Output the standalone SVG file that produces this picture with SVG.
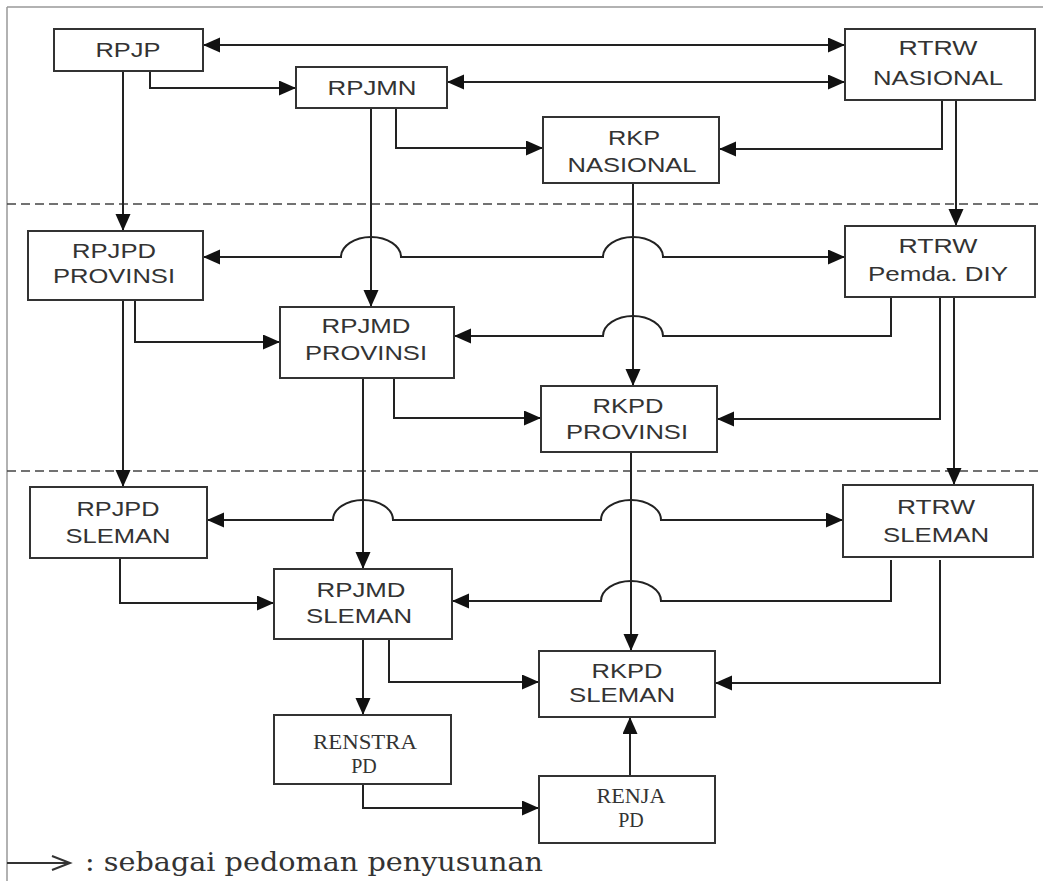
<svg xmlns="http://www.w3.org/2000/svg" width="1043" height="881" viewBox="0 0 1043 881">
<style>
.box{fill:#fff;stroke:#333;stroke-width:2}
.t{font-family:"Liberation Sans",Arial,sans-serif;font-size:21px;fill:#333;text-anchor:middle}
.s{font-family:"Liberation Serif","Times New Roman",serif;font-size:20px;fill:#333;text-anchor:middle}
.c{fill:none;stroke:#222;stroke-width:2}
.frame{fill:none;stroke:#999;stroke-width:1.5}
.dash{fill:none;stroke:#444;stroke-width:1.5;stroke-dasharray:9 5}
</style>
<defs>
<marker id="ah" markerUnits="userSpaceOnUse" markerWidth="18" markerHeight="16" refX="17" refY="7.5" orient="auto-start-reverse" viewBox="0 0 18 16">
<path d="M0,0 L17,7.5 L0,15 z" fill="#111"/>
</marker>
</defs>
<rect x="0" y="0" width="1043" height="881" fill="#fff"/>
<g id="frame">
<path class="frame" d="M7,7 H1043 M7,7 V881"/>
<path class="dash" d="M7,204 H1043 M7,471 H1043"/>
</g>
<g id="connectors">
<path class="c" d="M203,45 H845" marker-start="url(#ah)" marker-end="url(#ah)"/>
<path class="c" d="M447,82 H845" marker-start="url(#ah)" marker-end="url(#ah)"/>
<path class="c" d="M150,71 V88 H296" marker-end="url(#ah)"/>
<path class="c" d="M123,71 V231" marker-end="url(#ah)"/>
<path class="c" d="M371,108 V307" marker-end="url(#ah)"/>
<path class="c" d="M396,108 V148 H543" marker-end="url(#ah)"/>
<path class="c" d="M942,100 V149 H719" marker-end="url(#ah)"/>
<path class="c" d="M956,100 V226" marker-end="url(#ah)"/>
<path class="c" d="M633,183 V386" marker-end="url(#ah)"/>
<path class="c" d="M203,257 H341 A30,20 0 0 1 401,257 H603 A30,20 0 0 1 663,257 H845" marker-start="url(#ah)" marker-end="url(#ah)"/>
<path class="c" d="M891,297 V336 H663 A30,20 0 0 0 603,336 H454" marker-end="url(#ah)"/>
<path class="c" d="M940,297 V419 H717" marker-end="url(#ah)"/>
<path class="c" d="M135,300 V342 H280" marker-end="url(#ah)"/>
<path class="c" d="M123,300 V487" marker-end="url(#ah)"/>
<path class="c" d="M363,378 V569" marker-end="url(#ah)"/>
<path class="c" d="M394,378 V418 H541" marker-end="url(#ah)"/>
<path class="c" d="M954,297 V485" marker-end="url(#ah)"/>
<path class="c" d="M207,520 H333 A30,20 0 0 1 393,520 H601 A30,20 0 0 1 661,520 H843" marker-start="url(#ah)" marker-end="url(#ah)"/>
<path class="c" d="M891,560 V601 H661 A30,20 0 0 0 601,601 H452" marker-end="url(#ah)"/>
<path class="c" d="M940,560 V683 H715" marker-end="url(#ah)"/>
<path class="c" d="M631,452 V651" marker-end="url(#ah)"/>
<path class="c" d="M120,558 V603 H274" marker-end="url(#ah)"/>
<path class="c" d="M363,639 V715" marker-end="url(#ah)"/>
<path class="c" d="M389,639 V682 H539" marker-end="url(#ah)"/>
<path class="c" d="M363,784 V808 H539" marker-end="url(#ah)"/>
<path class="c" d="M630,776 V717" marker-end="url(#ah)"/>
</g>
<g id="rpjp"><rect class="box" x="54" y="29" width="149" height="42"/><text class="t" x="128" y="57" textLength="65" lengthAdjust="spacingAndGlyphs">RPJP</text></g>
<g id="rpjmn"><rect class="box" x="296" y="67" width="151" height="41"/><text class="t" x="372" y="95" textLength="89" lengthAdjust="spacingAndGlyphs">RPJMN</text></g>
<g id="rtrw-nasional"><rect class="box" x="845" y="29" width="190" height="71"/><text class="t" x="938" y="55" textLength="79" lengthAdjust="spacingAndGlyphs">RTRW</text><text class="t" x="938" y="85" textLength="130" lengthAdjust="spacingAndGlyphs">NASIONAL</text></g>
<g id="rkp-nasional"><rect class="box" x="543" y="117" width="176" height="66"/><text class="t" x="634" y="145" textLength="52" lengthAdjust="spacingAndGlyphs">RKP</text><text class="t" x="632" y="172" textLength="129" lengthAdjust="spacingAndGlyphs">NASIONAL</text></g>
<g id="rpjpd-provinsi"><rect class="box" x="28" y="231" width="175" height="69"/><text class="t" x="114" y="258" textLength="84" lengthAdjust="spacingAndGlyphs">RPJPD</text><text class="t" x="114" y="283" textLength="122" lengthAdjust="spacingAndGlyphs">PROVINSI</text></g>
<g id="rpjmd-provinsi"><rect class="box" x="280" y="307" width="174" height="71"/><text class="t" x="366" y="333" textLength="89" lengthAdjust="spacingAndGlyphs">RPJMD</text><text class="t" x="366" y="360" textLength="122" lengthAdjust="spacingAndGlyphs">PROVINSI</text></g>
<g id="rtrw-pemda-diy"><rect class="box" x="845" y="226" width="190" height="71"/><text class="t" x="938" y="253" textLength="79" lengthAdjust="spacingAndGlyphs">RTRW</text><text class="t" x="938" y="281" textLength="140" lengthAdjust="spacingAndGlyphs">Pemda. DIY</text></g>
<g id="rkpd-provinsi"><rect class="box" x="541" y="386" width="176" height="66"/><text class="t" x="628" y="413" textLength="71" lengthAdjust="spacingAndGlyphs">RKPD</text><text class="t" x="627" y="439" textLength="122" lengthAdjust="spacingAndGlyphs">PROVINSI</text></g>
<g id="rpjpd-sleman"><rect class="box" x="30" y="487" width="177" height="71"/><text class="t" x="118" y="516" textLength="83" lengthAdjust="spacingAndGlyphs">RPJPD</text><text class="t" x="118" y="543" textLength="105" lengthAdjust="spacingAndGlyphs">SLEMAN</text></g>
<g id="rpjmd-sleman"><rect class="box" x="274" y="569" width="178" height="70"/><text class="t" x="361" y="597" textLength="89" lengthAdjust="spacingAndGlyphs">RPJMD</text><text class="t" x="359" y="623" textLength="106" lengthAdjust="spacingAndGlyphs">SLEMAN</text></g>
<g id="rtrw-sleman"><rect class="box" x="843" y="485" width="190" height="72"/><text class="t" x="936" y="514" textLength="78" lengthAdjust="spacingAndGlyphs">RTRW</text><text class="t" x="936" y="542" textLength="106" lengthAdjust="spacingAndGlyphs">SLEMAN</text></g>
<g id="rkpd-sleman"><rect class="box" x="539" y="651" width="176" height="66"/><text class="t" x="627" y="678" textLength="71" lengthAdjust="spacingAndGlyphs">RKPD</text><text class="t" x="622" y="702" textLength="106" lengthAdjust="spacingAndGlyphs">SLEMAN</text></g>
<g id="renstra-pd"><rect class="box" x="274" y="715" width="177" height="69"/><text class="s" x="365" y="749" textLength="104" lengthAdjust="spacingAndGlyphs">RENSTRA</text><text class="s" x="364" y="773">PD</text></g>
<g id="renja-pd"><rect class="box" x="539" y="776" width="176" height="67"/><text class="s" x="631" y="803" textLength="69" lengthAdjust="spacingAndGlyphs">RENJA</text><text class="s" x="631" y="827">PD</text></g>
<g id="legend">
<path d="M7,863 H69" fill="none" stroke="#333" stroke-width="2"/>
<path d="M52,856 L70,863 L52,870" fill="none" stroke="#333" stroke-width="2"/>
<text x="85" y="871" font-family="'DejaVu Serif','Liberation Serif',serif" font-size="26" fill="#333" textLength="458" lengthAdjust="spacingAndGlyphs">: sebagai pedoman penyusunan</text>
</g>
</svg>
